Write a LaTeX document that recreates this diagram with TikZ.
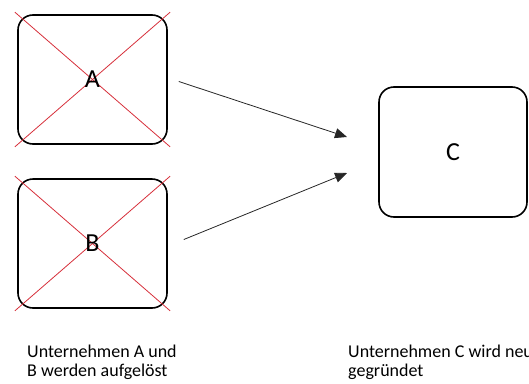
\documentclass[tikz,border=0pt]{standalone}
\usepackage{fontspec}
\setmainfont{Carlito}
\usepackage{xcolor}
\usetikzlibrary{arrows.meta}

\definecolor{crossred}{HTML}{D62F3A}

\tikzset{
  firm/.style={draw,line width=1.6pt,rounded corners=15pt,inner sep=0pt},
  cross/.style={crossred,line width=0.8pt,shorten <=-3pt,shorten >=-3pt},
  caption/.style={anchor=north west,align=left,inner sep=0pt,font=\fontsize{18}{19.5}\selectfont}
}

\begin{document}
\begin{tikzpicture}[x=1pt,y=-1pt,>={Triangle[length=12pt,width=10pt]}]
  \useasboundingbox (0,0) rectangle (529,383);

  \node[firm,minimum width=149pt,minimum height=129pt] (a) at (92.5,79.5) {};
  \node[firm,minimum width=149pt,minimum height=129pt] (b) at (92.5,243.5) {};
  \node[firm,minimum width=148pt,minimum height=130pt] (c) at (453,152) {};

  \draw[cross] (a.north west) -- (a.south east);
  \draw[cross] (a.north east) -- (a.south west);
  \draw[cross] (b.north west) -- (b.south east);
  \draw[cross] (b.north east) -- (b.south west);

  \node[font=\fontsize{26}{26}\selectfont] (la) at (a.center) {A};
  \node[font=\fontsize{26}{26}\selectfont] (lb) at (b.center) {B};
  \node[font=\fontsize{26}{26}\selectfont] (lc) at (c.center) {C};

  \coordinate (inA) at (347,137);
  \coordinate (inB) at (347,173);
  \draw[->,line width=0.8pt,black!85] ([xshift=11pt,yshift=-2pt]a.east) -- (inA);
  \draw[->,line width=0.8pt,black!85] ([xshift=16pt,yshift=4pt]b.east) -- (inB);

  \node[caption] (ta) at (27,344.5) {Unternehmen A und\\B werden aufgelöst};
  \node[caption] (tc) at (348,344.5) {Unternehmen C wird neu\\gegründet};
\end{tikzpicture}
\end{document}
